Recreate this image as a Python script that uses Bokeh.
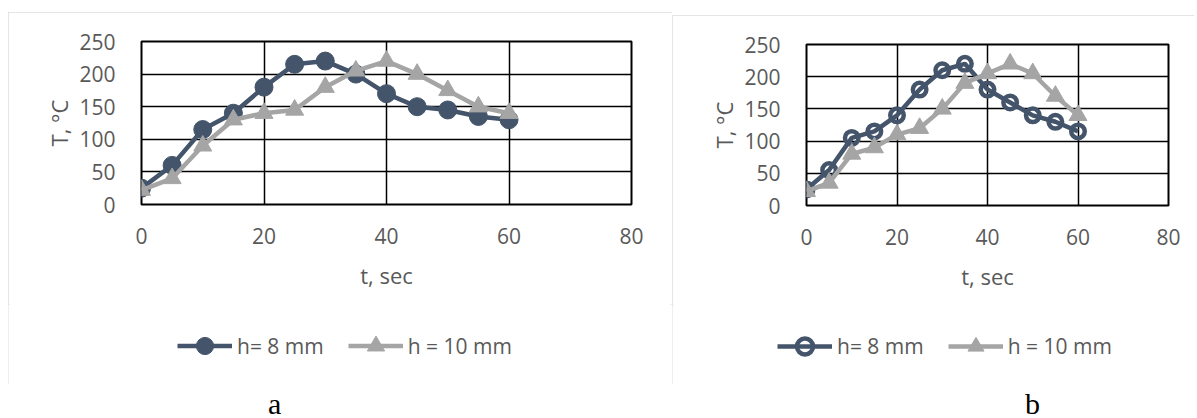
from bokeh.plotting import figure
from bokeh.models import Legend, LegendItem, Div, Range1d
from bokeh.layouts import row, column
from bokeh.embed import file_html
from bokeh.resources import INLINE

# ---- data ----
t_sec = [0, 5, 10, 15, 20, 25, 30, 35, 40, 45, 50, 55, 60]
a_h8 = [25, 60, 115, 140, 180, 215, 220, 200, 170, 150, 145, 135, 130]
a_h10 = [22, 40, 90, 130, 140, 145, 180, 205, 220, 200, 175, 150, 140]
b_h8 = [25, 55, 105, 115, 140, 180, 210, 220, 180, 160, 140, 130, 115]
b_h10 = [22, 35, 80, 90, 110, 120, 150, 190, 205, 220, 205, 170, 140]
x_ticks = [0, 20, 40, 60, 80]
y_ticks = [0, 50, 100, 150, 200, 250]
series_labels = ["h= 8 mm", "h = 10 mm"]
panel_labels = ["a", "b"]
x_label = "t, sec"
y_label = "T, °C"

DARK = "#44546A"
GRAY = "#A5A5A5"
TXT = "#595959"
FONT = "Open Sans"
BOX = {"outline": "2px solid #dcdcdc", "outline-offset": "-2px"}


def add_series(p, h8, h10, hollow, visible=True):
    l1 = p.line(t_sec, h8, line_color=DARK, line_width=4.5)
    if hollow:
        m1 = p.scatter(t_sec, h8, marker="circle", size=13.5, line_color=DARK,
                       line_width=4.5, fill_alpha=0)
    else:
        m1 = p.scatter(t_sec, h8, marker="circle", size=18, color=DARK)
    l2 = p.line(t_sec, h10, line_color=GRAY, line_width=4.5)
    m2 = p.scatter(t_sec, h10, marker="triangle", size=18, color=GRAY)
    for r in (l1, m1, l2, m2):
        r.visible = visible
    return l1, m1, l2, m2


def make_chart(h8, h10, hollow, w, h, mbl, mbr, mbt, mbb):
    p = figure(width=w, height=h, x_range=Range1d(0, 80), y_range=Range1d(0, 250),
               output_backend="svg", toolbar_location=None,
               min_border_left=mbl, min_border_right=mbr,
               min_border_top=mbt, min_border_bottom=mbb)
    p.outline_line_color = "black"
    p.outline_line_width = 2
    p.grid.grid_line_color = "black"
    p.grid.grid_line_width = 1.5
    p.xaxis.ticker = x_ticks
    p.yaxis.ticker = y_ticks
    for ax in (p.xaxis[0], p.yaxis[0]):
        ax.axis_line_color = None
        ax.major_tick_line_color = None
        ax.minor_tick_line_color = None
        ax.major_label_text_font = FONT
        ax.major_label_text_font_size = "21px"
        ax.major_label_text_color = TXT
        ax.axis_label_text_font = FONT
        ax.axis_label_text_font_size = "22px"
        ax.axis_label_text_color = TXT
        ax.axis_label_text_font_style = "normal"
    p.xaxis.axis_label = x_label
    p.yaxis.axis_label = y_label
    p.xaxis.major_label_standoff = 17
    p.yaxis.major_label_standoff = 20
    p.xaxis.axis_label_standoff = 13
    p.yaxis.axis_label_standoff = 2
    add_series(p, h8, h10, hollow)
    return p


def make_legend(h8, h10, hollow, w, h, leg_x, leg_y, gh):
    p = figure(width=w, height=h, x_range=Range1d(0, 80), y_range=Range1d(0, 250),
               output_backend="svg", toolbar_location=None,
               x_axis_location=None, y_axis_location=None,
               min_border=0)
    p.outline_line_color = None
    p.grid.visible = False
    l1, m1, l2, m2 = add_series(p, h8, h10, hollow, visible=False)
    legend = Legend(items=[LegendItem(label=series_labels[0], renderers=[l1, m1]),
                           LegendItem(label=series_labels[1], renderers=[l2, m2])],
                    location=(leg_x, leg_y), orientation="horizontal",
                    glyph_width=55, glyph_height=gh, label_standoff=5, spacing=24,
                    padding=0, margin=0, border_line_color=None,
                    background_fill_alpha=0, inactive_fill_alpha=0,
                    label_text_font=FONT, label_text_font_size="21px",
                    label_text_color=TXT)
    p.add_layout(legend, "center")
    return p


p1 = make_chart(a_h8, a_h10, False, 664, 292, 133, 41, 29, 100)
g1 = make_legend(a_h8, a_h10, False, 664, 80, 169, 17, 43)
p2 = make_chart(b_h8, b_h10, True, 525, 290, 134, 29, 29, 100)
g2 = make_legend(b_h8, b_h10, True, 525, 79, 105, 18, 40)

box1 = column(p1, row(g1), margin=(12, 0, 0, 8), styles=dict(BOX))
box2 = column(p2, row(g2), margin=(15, 0, 0, 0),
              styles=dict(BOX, **{"clip-path": "inset(0px 3px 0px 0px)"}))

span = '<span style="font-family:\'Liberation Serif\';font-size:30px;line-height:28px;color:black">{}</span>'
div_a = Div(text=span.format(panel_labels[0]), width=20, height=28, margin=(6, 0, 0, 268))
div_b = Div(text=span.format(panel_labels[1]), width=20, height=28, margin=(6, 0, 0, 737))

layout = column(row(box1, box2), row(div_a, div_b))
open("out.html", "w").write(file_html(layout, INLINE))
